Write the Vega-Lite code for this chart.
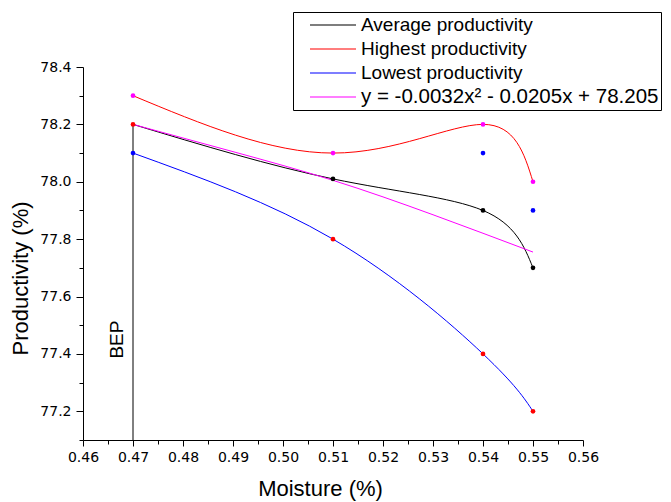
{
  "$schema": "https://vega.github.io/schema/vega-lite/v6.json",
  "width": 500,
  "height": 373,
  "autosize": {"type": "none"},
  "padding": {"left": 83, "top": 67, "right": 88, "bottom": 62},
  "background": "white",
  "config": {
    "view": {"stroke": null},
    "axis": {"grid": false, "domainColor": "black", "tickColor": "black", "labelColor": "black", "labelFont": "DejaVu Sans", "labelFontSize": 14, "tickSize": 6, "tickCount": 40, "labelOverlap": false, "labelBound": false, "labelFlush": false, "titleFont": "Liberation Sans", "titleFontWeight": "normal", "titleFontSize": 22, "titleColor": "black"}
  },
  "datasets": {
    "curves": [
      {"series": "Average productivity", "x": 0.47, "y": 78.2},
      {"series": "Average productivity", "x": 0.51, "y": 78.01},
      {"series": "Average productivity", "x": 0.54, "y": 77.9},
      {"series": "Average productivity", "x": 0.55, "y": 77.7},
      {"series": "Highest productivity", "x": 0.47, "y": 78.3},
      {"series": "Highest productivity", "x": 0.51, "y": 78.1},
      {"series": "Highest productivity", "x": 0.54, "y": 78.2},
      {"series": "Highest productivity", "x": 0.55, "y": 78.0},
      {"series": "Lowest productivity", "x": 0.47, "y": 78.1},
      {"series": "Lowest productivity", "x": 0.51, "y": 77.8},
      {"series": "Lowest productivity", "x": 0.54, "y": 77.4},
      {"series": "Lowest productivity", "x": 0.55, "y": 77.2},
      {"series": "y = -0.0032x² - 0.0205x + 78.205", "x": 0.47, "y": 78.2},
      {"series": "y = -0.0032x² - 0.0205x + 78.205", "x": 0.49, "y": 78.105},
      {"series": "y = -0.0032x² - 0.0205x + 78.205", "x": 0.51, "y": 78.005},
      {"series": "y = -0.0032x² - 0.0205x + 78.205", "x": 0.53, "y": 77.885},
      {"series": "y = -0.0032x² - 0.0205x + 78.205", "x": 0.55, "y": 77.755}
    ],
    "dots": [
      {"x": 0.47, "y": 78.3, "c": "#ff00ff"},
      {"x": 0.47, "y": 78.2, "c": "#ff0000"},
      {"x": 0.47, "y": 78.1, "c": "#0000ff"},
      {"x": 0.51, "y": 78.1, "c": "#ff00ff"},
      {"x": 0.51, "y": 78.01, "c": "#000000"},
      {"x": 0.51, "y": 77.8, "c": "#ff0000"},
      {"x": 0.54, "y": 78.2, "c": "#ff00ff"},
      {"x": 0.54, "y": 78.1, "c": "#0000ff"},
      {"x": 0.54, "y": 77.9, "c": "#000000"},
      {"x": 0.54, "y": 77.4, "c": "#ff0000"},
      {"x": 0.55, "y": 78.0, "c": "#ff00ff"},
      {"x": 0.55, "y": 77.9, "c": "#0000ff"},
      {"x": 0.55, "y": 77.7, "c": "#000000"},
      {"x": 0.55, "y": 77.2, "c": "#ff0000"}
    ],
    "bep": [{"x": 0.47, "y": 77.1, "y2": 78.2, "tx": 0.4668, "ty": 77.45, "label": "BEP"}]
  },
  "layer": [
    {
      "data": {"name": "bep"},
      "mark": {"type": "rule", "color": "black", "strokeWidth": 1},
      "encoding": {
        "x": {"field": "x", "type": "quantitative", "scale": {"domain": [0.46, 0.56], "nice": false, "zero": false},
          "axis": {"values": [0.46, 0.465, 0.47, 0.475, 0.48, 0.485, 0.49, 0.495, 0.5, 0.505, 0.51, 0.515, 0.52, 0.525, 0.53, 0.535, 0.54, 0.545, 0.55, 0.555, 0.56],
            "labelExpr": "round(datum.value*1000) % 10 == 0 ? format(datum.value, '.2f') : ''",
            "tickSize": {"condition": {"test": "round(datum.value*1000) % 10 == 0", "value": 6}, "value": 4},
            "title": "Moisture (%)", "titleX": 237, "titleY": 38, "titleBaseline": "top", "labelPadding": 4}},
        "y": {"field": "y", "type": "quantitative", "scale": {"domain": [77.1, 78.4], "nice": false, "zero": false},
          "axis": {"values": [77.1, 77.2, 77.3, 77.4, 77.5, 77.6, 77.7, 77.8, 77.9, 78.0, 78.1, 78.2, 78.3, 78.4],
            "labelExpr": "round(datum.value*10) % 2 == 0 ? format(datum.value, '.1f') : ''",
            "tickSize": {"condition": {"test": "round(datum.value*10) % 2 == 0", "value": 7}, "value": 4},
            "title": "Productivity (%)", "titleX": -63, "titleY": 211, "titleAngle": 270, "titleBaseline": "middle", "titleAlign": "center", "labelPadding": 5}},
        "y2": {"field": "y2"}
      }
    },
    {
      "data": {"name": "bep"},
      "mark": {"type": "text", "angle": 270, "font": "Liberation Sans", "fontSize": 19, "color": "black", "baseline": "middle", "align": "center"},
      "encoding": {
        "x": {"field": "tx", "type": "quantitative"},
        "y": {"field": "ty", "type": "quantitative"},
        "text": {"field": "label"}
      }
    },
    {
      "data": {"name": "curves"},
      "mark": {"type": "line", "interpolate": "natural", "strokeWidth": 1},
      "encoding": {
        "x": {"field": "x", "type": "quantitative"},
        "y": {"field": "y", "type": "quantitative"},
        "color": {"field": "series", "type": "nominal",
          "scale": {"domain": ["Average productivity", "Highest productivity", "Lowest productivity", "y = -0.0032x² - 0.0205x + 78.205"], "range": ["#000000", "#ff0000", "#0000ff", "#ff00ff"]},
          "legend": {"orient": "none", "legendX": 210, "legendY": -55, "title": null, "symbolType": "M0.4,0H5", "symbolSize": 400, "symbolStrokeWidth": 2, "labelFont": "Liberation Sans", "labelFontSize": 19, "labelColor": "black", "labelLimit": 600, "rowPadding": 3, "strokeColor": "black", "padding": 2, "labelOffset": 44,
            "encode": {"symbols": {"update": {"opacity": {"value": 0.5}}}, "labels": {"update": {"fontSize": {"signal": "datum.index === 3 ? 20.5 : 19"}}}}}},
        "order": {"field": "x", "type": "quantitative"}
      }
    },
    {
      "data": {"name": "dots"},
      "mark": {"type": "circle", "size": 22, "opacity": 1},
      "encoding": {
        "x": {"field": "x", "type": "quantitative"},
        "y": {"field": "y", "type": "quantitative"},
        "color": {"field": "c", "type": "nominal", "scale": null}
      }
    }
  ]
}
